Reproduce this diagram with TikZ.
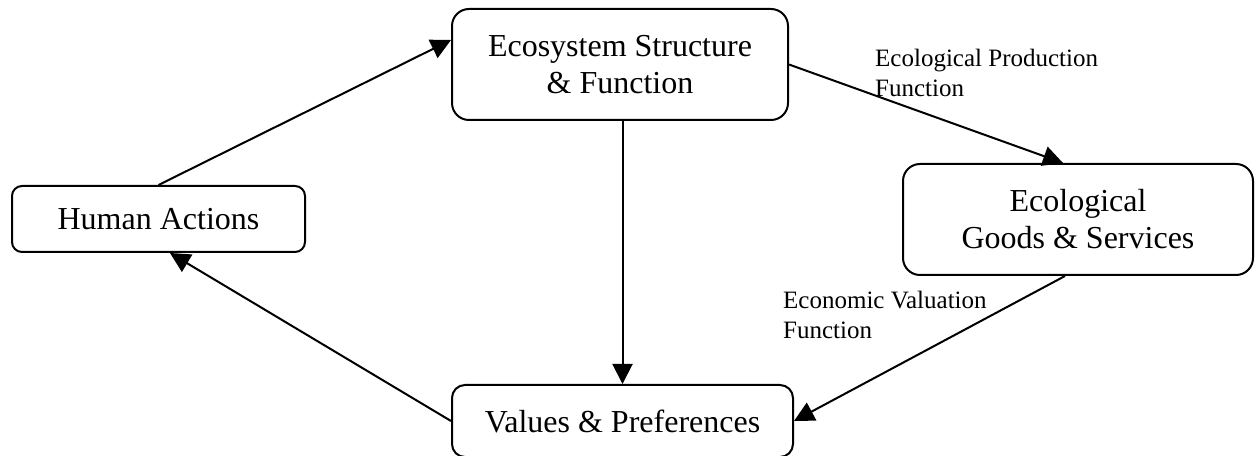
\documentclass[tikz,border=0pt]{standalone}
\usepackage{fontspec}
\setmainfont{Liberation Serif}
\usetikzlibrary{arrows.meta}

\begin{document}
\begin{tikzpicture}[x=1pt,y=1pt]

      \useasboundingbox (0,0) rectangle (1255,455);

      \begin{scope}[every node/.style={draw,line width=2pt,rounded corners=14pt,align=center,inner sep=0pt,font=\fontsize{32}{37}\selectfont}]
        \node[minimum width=293pt,minimum height=66pt,rounded corners=10pt] (human) at (158.5,236) {Human Actions};
        \node[minimum width=336pt,minimum height=111pt,rounded corners=17pt] (eco) at (620,390.5) {Ecosystem Structure\\\& Function};
        \node[minimum width=350pt,minimum height=111pt,rounded corners=17pt] (goods) at (1078,235.5) {Ecological\\Goods \& Services};
        \node[minimum width=341pt,minimum height=72pt,rounded corners=13pt] (values) at (622.5,34) {Values \& Preferences};
      \end{scope}

      \begin{scope}[every node/.style={align=left,anchor=north west,inner sep=0pt,font=\fontsize{25}{30}\selectfont}]
        \node (prod) at (875,406) {Ecological Production\\Function};
        \node (valu) at (783,164) {Economic Valuation\\Function};
      \end{scope}

      \begin{scope}[every edge/.style={draw,line width=2pt,-{Triangle[length=20pt,width=20pt]}}]
        \path (human.north) edge ([yshift=24.5pt]eco.west);
        \path (values.north |- eco.south) edge (values.north);
        \path (eco.east) edge ([xshift=-15pt]goods.north);
        \path ([xshift=-13pt]goods.south) edge (values.east);
        \path (values.west) edge ([xshift=11.5pt]human.south);
      \end{scope}

    \end{tikzpicture}
\end{document}
